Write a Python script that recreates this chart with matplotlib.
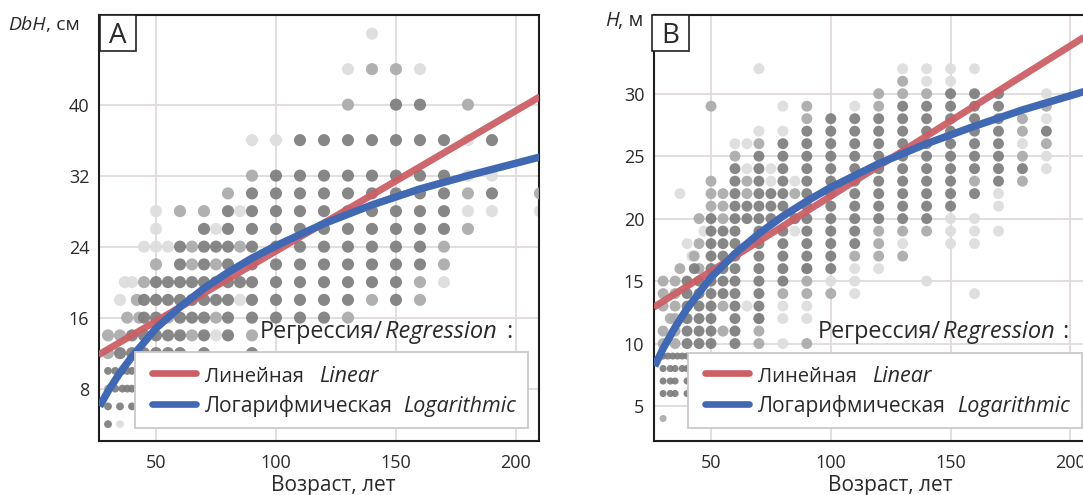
import matplotlib
matplotlib.use("Agg")
import matplotlib.pyplot as plt
from matplotlib.patches import Rectangle
from matplotlib.lines import Line2D

plt.rcParams['font.family'] = ['Open Sans', 'DejaVu Sans']

W, H = 1083, 495
TEXT = '#2a2a2a'
DARK, MID, LIGHT = '#7d7d7d', '#aaaaaa', '#dddddd'
RED, BLUE = '#cc5f66', '#4169b3'

# Panel A: DbH rows
A_VALUES = [48, 44, 40, 36, 32, 30, 28, 26, 24, 22, 20, 18, 16, 14, 12, 10, 8, 6, 4]
A_DARK = [
    [], [], [150, 160],
    [110, 120, 130, 140, 150, 160, 170, 190],
    [100, 110, 120, 130, 140, 150, 160, 170],
    [90, 100, 110, 120, 130, 140, 150, 160, 170, 190],
    [80, 90, 100, 110, 120, 130, 140, 150, 160, 170],
    [70, 80, 90, 100, 110, 120, 130, 140, 150, 160, 170],
    [60, 70, 75, 80, 90, 100, 110, 120, 130, 140, 150, 160],
    [60, 70, 80, 90, 100, 110, 120, 130, 140, 150, 160],
    [50, 55, 60, 65, 70, 75, 80, 85, 90, 100, 110, 120, 130, 140, 150],
    [45, 50, 55, 60, 65, 70, 75, 80, 90, 100, 110, 120, 130, 150],
    [45, 50, 60, 65, 70, 80, 90, 100, 110, 120],
    [40, 45, 50, 55, 60, 70, 80],
    [35, 40, 45, 50, 55, 60, 70, 90],
    [30, 33, 36, 38, 40], [33, 36, 38, 40], [30, 35, 40], [30],
]
A_MID = [
    [], [140, 150], [130, 180], [], [90], [80, 180, 210], [60, 70], [180],
    [65, 85, 170], [50, 65, 75, 170], [45, 160], [42, 140, 160],
    [38, 43, 55, 75, 130], [30, 35, 65, 90], [30], [], [30], [], [],
]
A_LIGHT = [
    [140], [130, 160], [], [90, 100, 180], [180, 190], [], [50, 85, 180, 190, 210],
    [50, 75], [45, 50, 55], [], [37, 40, 170], [35, 85], [], [75], [], [], [], [], [35],
]
A_LINEAR_AGE = [26, 210]
A_LINEAR_VAL = [11.8, 40.9]
A_LOG_AGE = [26.5, 30, 35, 40, 50, 60, 70, 80, 90, 100, 120, 140, 160, 180, 200, 210]
A_LOG_VAL = [6.0, 7.7, 9.8, 11.6, 14.8, 17.2, 19.3, 21.1, 22.7, 24.1, 26.6, 28.7, 30.5, 32.0, 33.4, 34.1]
A_XTICKS = [50, 100, 150, 200]
A_YTICKS = [8, 16, 24, 32, 40]

# Panel B: H rows
B_VALUES = [32, 31, 30, 29, 28, 27, 26, 25, 24, 23, 22, 21, 20, 19, 18, 17, 16, 15, 14, 13, 12, 11, 10, 9, 8, 7, 6, 4]
B_DARK = [
    [], [], [150, 160, 170],
    [130, 140, 150, 160, 170],
    [100, 110, 120, 130, 140, 150, 160, 170],
    [90, 100, 110, 120, 130, 140, 150, 160, 170, 190],
    [80, 90, 100, 110, 120, 130, 140, 150, 160, 170],
    [70, 80, 90, 100, 110, 120, 130, 140, 150, 160, 170],
    [60, 70, 80, 90, 100, 110, 120, 130, 140, 150, 160, 170, 180],
    [60, 70, 80, 90, 100, 110, 120, 130, 140, 150, 170],
    [60, 70, 75, 80, 90, 100, 110, 120, 130, 140, 150, 160],
    [60, 65, 70, 75, 80, 90, 100, 110, 120, 130, 140, 150],
    [50, 60, 65, 70, 75, 85, 90, 100, 110, 120, 130, 140],
    [50, 55, 60, 70, 80, 90, 100, 110],
    [50, 55, 60, 70, 80, 90, 100, 110],
    [50, 55, 60, 70, 80, 90, 100],
    [43, 50, 55, 60, 70, 80, 90, 100],
    [40, 45, 50, 55, 60, 70, 80],
    [40, 45, 50, 55, 60, 70],
    [40, 45, 50, 60, 70],
    [40, 45, 50, 60, 70],
    [40, 45, 50, 60],
    [40, 45, 50, 60],
    [30, 32, 34, 36, 38, 40], [30, 33, 35, 38, 40], [30, 33, 35, 40], [30, 33, 35, 40], [],
]
B_MID = [
    [], [130], [120, 130, 140], [50, 90, 120, 190], [90, 180], [180], [70, 190],
    [60, 180], [], [50, 65, 160, 180], [50, 55, 65, 85], [50, 55], [45, 55],
    [120, 130, 140], [45, 120], [43, 110, 120, 130], [37, 45, 90], [30, 35, 90], [30, 35, 80, 90, 100],
    [30, 35, 55], [33, 35, 70], [30, 35, 55, 70], [30, 35, 70, 90], [], [], [], [], [30],
]
B_LIGHT = [
    [70, 130, 140, 150, 160], [140, 150], [190], [80, 110], [190], [70, 80],
    [60, 65, 180], [190], [65, 75, 190], [75, 85], [37, 170], [170], [150, 160],
    [47, 85, 150, 160, 170], [40, 130, 150, 160], [42], [110, 120], [100, 110, 140],
    [110, 160], [65, 80, 90], [80, 90], [55, 60], [80], [], [], [], [], [],
]
B_LINEAR_AGE = [26, 208]
B_LINEAR_VAL = [12.9, 34.8]
B_LOG_AGE = [26.5, 30, 35, 40, 50, 60, 70, 80, 90, 100, 120, 140, 160, 180, 208]
B_LOG_VAL = [8.2, 9.6, 11.3, 12.8, 15.3, 17.2, 18.8, 20.2, 21.4, 22.5, 24.4, 26.0, 27.4, 28.7, 30.3]
B_XTICKS = [50, 100, 150, 200]
B_YTICKS = [5, 10, 15, 20, 25, 30]

fig = plt.figure(figsize=(W / 100, H / 100), dpi=100)


def ftext(x, y, s, **kw):
    kw.setdefault('color', TEXT)
    kw.setdefault('va', 'baseline')
    fig.text(x / W, 1 - y / H, s, **kw)


def fkey(x0, x1, y, color):
    fig.add_artist(Line2D([x0 / W, x1 / W], [1 - y / H] * 2, color=color, lw=4.8,
                          solid_capstyle='round', zorder=12))


def panel(l, r, t, b, xlim, ylim, vals, dark, mid, light, size, small_at,
          lin_a, lin_v, log_a, log_v, xt, yt):
    ax = fig.add_axes([l / W, 1 - b / H, (r - l) / W, (b - t) / H])
    ax.set_xlim(*xlim)
    ax.set_ylim(*ylim)
    ax.set_xticks(xt)
    ax.set_yticks(yt)
    ax.grid(True, color='#e0dbda', lw=1.3, zorder=0)
    ax.set_axisbelow(True)
    ax.tick_params(length=0, labelsize=13, labelcolor=TEXT, pad=7)
    ax.tick_params(axis='x', pad=9)
    for s in ax.spines.values():
        s.set_color('#1e1e1e')
        s.set_linewidth(1.5)
    for group, col, z in ((light, LIGHT, 2), (mid, MID, 3), (dark, DARK, 4)):
        xs = [a for v, ages in zip(vals, group) for a in ages]
        ys = [v for v, ages in zip(vals, group) for a in ages]
        sz = [size * 0.42 if y <= small_at else size for y in ys]
        ax.scatter(xs, ys, s=sz, color=col, linewidths=0, alpha=0.92, zorder=z)
    ax.plot(lin_a, lin_v, color=RED, lw=5.0, alpha=0.95, zorder=6, solid_capstyle='butt')
    ax.plot(log_a, log_v, color=BLUE, lw=5.4, zorder=7, solid_capstyle='butt')
    return ax


axA = panel(99, 539, 15, 441, (26.25, 209.6), (2.1, 50.1), A_VALUES, A_DARK, A_MID, A_LIGHT, 76, 10,
            A_LINEAR_AGE, A_LINEAR_VAL, A_LOG_AGE, A_LOG_VAL, A_XTICKS, A_YTICKS)
axB = panel(654, 1090, 15, 441, (26.2, 208.2), (2.2, 36.3), B_VALUES, B_DARK, B_MID, B_LIGHT, 62, 9,
            B_LINEAR_AGE, B_LINEAR_VAL, B_LOG_AGE, B_LOG_VAL, B_XTICKS, B_YTICKS)


def legend_box(x0, y0, x1, y1):
    fig.add_artist(Rectangle((x0 / W, 1 - y1 / H), (x1 - x0) / W, (y1 - y0) / H,
                             transform=fig.transFigure, fc='white', ec='#c9c9c9', lw=1.3, zorder=10))


def tag(x0, y0, x1, y1, s):
    fig.add_artist(Rectangle((x0 / W, 1 - y1 / H), (x1 - x0) / W, (y1 - y0) / H,
                             transform=fig.transFigure, fc='white', ec='#222222', lw=1.2, zorder=10))
    ftext((x0 + x1) / 2, (y0 + y1) / 2 + 10, s, fontsize=20, ha='center', zorder=13)


legend_box(135, 352, 528, 428)
legend_box(688, 353, 1082, 428)
fkey(152, 196, 373, RED)
fkey(152, 196, 404, BLUE)
fkey(705, 749, 373, RED)
fkey(705, 749, 404, BLUE)
for x0, lin_x, log_x in ((205, 319, 403), (758, 872, 957)):
    ftext(x0, 382, 'Линейная', fontsize=14.5, zorder=13)
    ftext(lin_x, 382, 'Linear', fontsize=15.5, style='italic', zorder=13)
    ftext(x0, 412, 'Логарифмическая', fontsize=15.2, zorder=13)
    ftext(log_x, 412, 'Logarithmic', fontsize=15.5, style='italic', zorder=13)
for x0, x1, x2 in ((260, 385, 506), (818, 943, 1062)):
    ftext(x0, 338, 'Регрессия/', fontsize=16.8, zorder=13)
    ftext(x1, 338, 'Regression', fontsize=17, style='italic', zorder=13)
    ftext(x2, 338, ':', fontsize=16.8, zorder=13)

tag(100, 15, 136, 51, 'A')
tag(652, 15, 689, 51, 'B')
ftext(8, 30, 'DbH', fontsize=14, style='italic')
ftext(46, 30, ', см', fontsize=14)
ftext(605, 26, 'H', fontsize=14.5, style='italic')
ftext(618, 26, ', м', fontsize=14.5)
ftext(333, 491, 'Возраст, лет', fontsize=15, ha='center')
ftext(890, 491, 'Возраст, лет', fontsize=15, ha='center')

fig.savefig('out.png', dpi=100)
